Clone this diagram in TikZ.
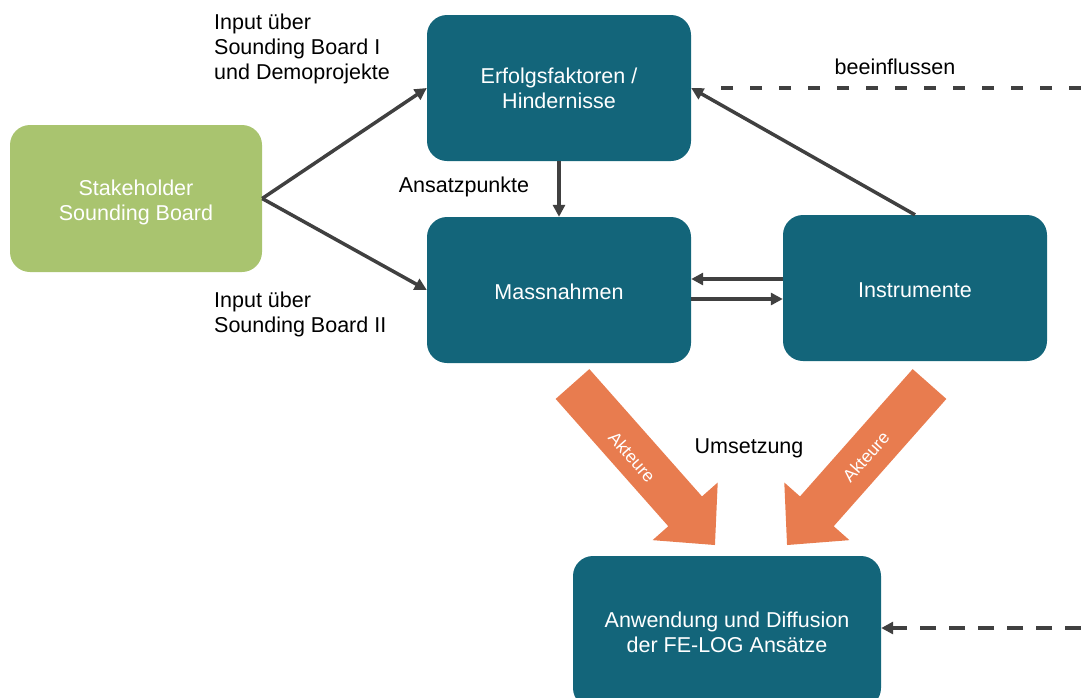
\documentclass[tikz,border=0pt]{standalone}
\usepackage{fontspec}
\setmainfont{Liberation Sans}
\usetikzlibrary{arrows.meta,calc}
\definecolor{boxteal}{HTML}{13657A}
\definecolor{boxgreen}{HTML}{A9C46F}
\definecolor{blockorange}{HTML}{E87C4F}
\definecolor{arrgray}{HTML}{404040}
\newcommand{\lift}[1]{\rule{0pt}{#1}}
\begin{document}
\begin{tikzpicture}[x=1pt,y=-1pt,
  font=\fontsize{21.5}{25}\selectfont,
  box/.style={fill=boxteal, rounded corners=20pt, text=white, align=center,
    minimum width=264pt, minimum height=146pt, inner sep=0pt},
  greenbox/.style={box, fill=boxgreen, minimum width=252pt, minimum height=147pt},
  lbl/.style={inner sep=0pt, align=left},
  arr/.style={draw=arrgray, line width=3.5pt, -{Triangle[length=12pt,width=12pt]}},
  dashline/.style={draw=arrgray, line width=4pt, dash pattern=on 12pt off 17pt},
  actor/.style={text=white, font=\fontsize{17.5}{20}\selectfont, inner sep=0pt}]
\useasboundingbox (0,0) rectangle (1081,697);
\clip (0,0) rectangle (1081,697);

% boxes
\node[greenbox] (stake) at (136,198.5) {\lift{23pt}Stakeholder\\Sounding Board};
\node[box] (erf)  at (559,88)  {Erfolgsfaktoren /\\Hindernisse};
\node[box] (mass) at (559,290) {\lift{20pt}Massnahmen};
\node[box] (inst) at (915,288) {\lift{20pt}Instrumente};
\node[box, minimum width=308pt, minimum height=152pt] (anw) at (727,632)
  {Anwendung und Diffusion\\der FE-LOG Ansätze};

% labels
\node[lbl, anchor=north west] (in1) at (214,14) {Input über\\Sounding Board I\\und Demoprojekte};
\node[lbl, anchor=north west] (in2) at (214,292) {Input über\\Sounding Board II};
\node[lbl, anchor=base] (ans) at (464,192.5) {Ansatzpunkte};
\node[lbl, anchor=base] (bee) at (895,74) {beeinflussen};
\node[lbl, anchor=base] (ums) at (749,453) {Umsetzung};

% connectors
\draw[arr] (stake.east) -- (erf.west);
\draw[arr] (stake.east) -- (mass.west);
\draw[arr] (erf.south) -- (mass.north);
\draw[arr] (inst.north) -- (erf.east);
\draw[arr] ([yshift=11pt]mass.east -| inst.west) -- ([yshift=11pt]mass.east);
\draw[arr] ([yshift=-9pt]mass.east) -- ([yshift=-9pt]mass.east -| inst.west);

% external influences
\coordinate (ext1) at (1081,88);
\coordinate (ext2) at (1081,628);
\draw[dashline, shorten >=28pt] (ext1) -- (erf.east);
\draw[dashline, line width=3.5pt, dash pattern=on 16pt off 13pt,
  -{Triangle[length=12pt,width=12pt]}] (ext2) -- (anw.east |- ext2);

% block arrows (actors)
\begin{scope}[shift={(572.5,384)}, rotate=-48.5]
  \fill[blockorange] (0,-22.5) -- (170,-22.5) -- (170,-43.5) -- (215,0)
    -- (170,43.5) -- (170,22.5) -- (0,22.5) -- cycle;
\end{scope}
\begin{scope}[shift={(929.5,384)}, rotate=-131.5]
  \fill[blockorange] (0,-22.5) -- (170,-22.5) -- (170,-43.5) -- (215,0)
    -- (170,43.5) -- (170,22.5) -- (0,22.5) -- cycle;
\end{scope}
\node[actor, rotate=-48.5] (ak1) at (632,457) {Akteure};
\node[actor, rotate=48.5] (ak2) at (866,457) {Akteure};
\end{tikzpicture}
\end{document}
